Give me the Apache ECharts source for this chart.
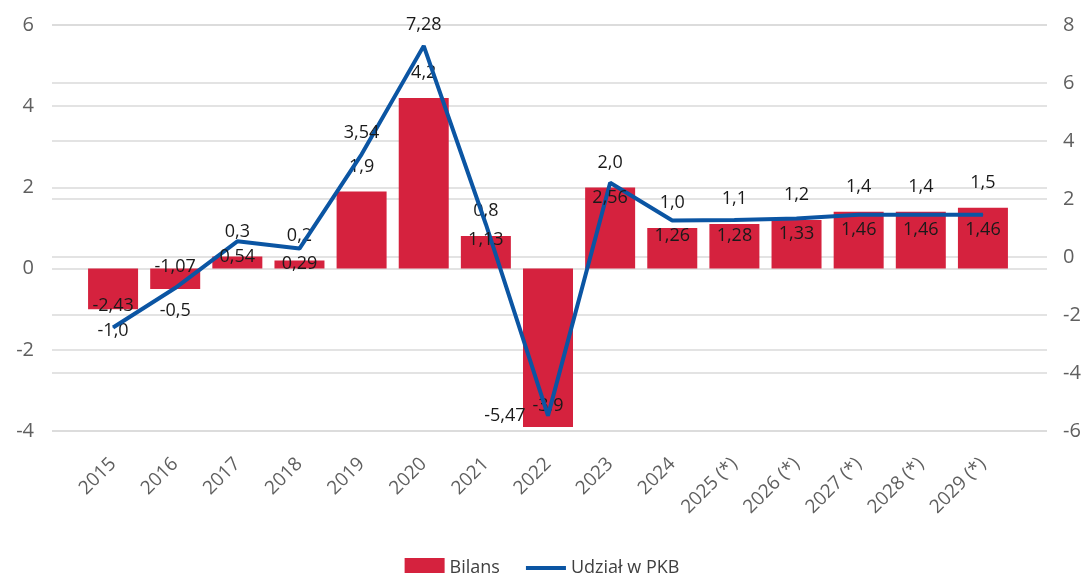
<!DOCTYPE html>
<html>
<head>
<meta charset="utf-8">
<script src="https://cdn.jsdelivr.net/npm/echarts@6/dist/echarts.min.js"></script>
<style>
  html, body { margin: 0; padding: 0; background: #fff; }
  #chart { width: 1084px; height: 573px; }
</style>
</head>
<body>
<div id="chart"></div>
<script>
// data
const years = ['2015', '2016', '2017', '2018', '2019', '2020', '2021', '2022', '2023', '2024',
  '2025 (*)', '2026 (*)', '2027 (*)', '2028 (*)', '2029 (*)'];
const bilans = [-1.0, -0.5, 0.3, 0.2, 1.9, 4.2, 0.8, -3.9, 2.0, 1.0, 1.1, 1.2, 1.4, 1.4, 1.5];
const udzialPkb = [-2.43, -1.07, 0.54, 0.29, 3.54, 7.28, 1.13, -5.47, 2.56, 1.26, 1.28, 1.33, 1.46, 1.46, 1.46];
const leftTicks = [-4, -2, 0, 2, 4, 6];
const rightTicks = [-6, -4, -2, 0, 2, 4, 6, 8];

const FONT = '"Open Sans", "Noto Sans", sans-serif';
const RED = '#d5223e';
const BLUE = '#0b55a3';
const GRID_LINE = '#dadada';
const TICK_COLOR = '#5f5f5f';
const LABEL_COLOR = '#1a1a1a';

const fmt = (v, d) => v.toFixed(d).replace('.', ',');

// where Excel happened to put the line labels
const linePos = ['top', 'top', 'bottom', 'bottom', 'top', 'top', 'bottom', 'left', 'bottom',
  'bottom', 'bottom', 'bottom', 'bottom', 'bottom', 'bottom'];

const leftMin = leftTicks[0], leftMax = leftTicks[leftTicks.length - 1];
const rightMin = rightTicks[0], rightMax = rightTicks[rightTicks.length - 1];

const barData = bilans.map((v) => {
  let pos = v >= 0 ? 'top' : 'bottom';
  let dist = v >= 0 ? 16 : 13;
  if (v < leftMin + 0.5) { pos = 'insideBottom'; dist = 12; }  // no room below
  return { value: v, label: { position: pos, distance: dist } };
});

const lineData = udzialPkb.map((v, i) => {
  const pos = linePos[i];
  const dist = pos === 'top' ? 12 : pos === 'left' ? 22 : 6;
  return { value: v, label: { position: pos, distance: dist } };
});

const chart = echarts.init(document.getElementById('chart'));
chart.setOption({
  animation: false,
  textStyle: { fontFamily: FONT },
  grid: [
    // gridlines / outer axes
    { left: 52, right: 37, top: 25, bottom: 142 },
    // bars and line
    { left: 82, right: 70, top: 25, bottom: 142 },
  ],
  legend: {
    top: 553,
    left: 'center',
    itemWidth: 40,
    itemHeight: 20,
    itemGap: 26,
    textStyle: { fontFamily: FONT, fontSize: 18, color: '#404040' },
    data: [
      { name: 'Bilans', icon: 'rect' },
      { name: 'Udział w PKB', icon: 'path://M0,0 H40 V4 H0 Z' },
    ],
  },
  xAxis: [
    { gridIndex: 0, type: 'category', data: years, show: false },
    {
      gridIndex: 1,
      type: 'category',
      data: years,
      axisLine: { show: false },
      axisTick: { show: false },
      axisLabel: {
        rotate: 45,
        margin: 30,
        interval: 0,
        color: TICK_COLOR,
        fontFamily: FONT,
        fontSize: 19,
      },
    },
  ],
  yAxis: [
    {
      gridIndex: 0,
      type: 'value',
      position: 'left',
      min: leftMin,
      max: leftMax,
      interval: 2,
      axisLine: { show: false },
      axisTick: { show: false },
      axisLabel: { margin: 18, color: TICK_COLOR, fontFamily: FONT, fontSize: 20 },
      splitLine: { lineStyle: { color: GRID_LINE, width: 1.5 } },
    },
    {
      gridIndex: 0,
      type: 'value',
      position: 'right',
      min: rightMin,
      max: rightMax,
      interval: 2,
      axisLine: { show: false },
      axisTick: { show: false },
      axisLabel: { margin: 16, color: TICK_COLOR, fontFamily: FONT, fontSize: 20 },
      splitLine: { lineStyle: { color: GRID_LINE, width: 1.5 } },
    },
    { gridIndex: 1, type: 'value', min: leftMin, max: leftMax, show: false, splitLine: { show: false } },
    { gridIndex: 1, type: 'value', min: rightMin, max: rightMax, show: false, splitLine: { show: false } },
  ],
  series: [
    {
      name: 'Bilans',
      type: 'bar',
      xAxisIndex: 1,
      yAxisIndex: 2,
      data: barData,
      barWidth: 50,
      itemStyle: { color: RED },
      label: {
        show: true,
        color: LABEL_COLOR,
        fontFamily: FONT,
        fontSize: 18,
        formatter: (p) => fmt(p.value, 1),
      },
      z: 2,
    },
    {
      name: 'Udział w PKB',
      type: 'line',
      xAxisIndex: 1,
      yAxisIndex: 3,
      data: lineData,
      symbol: 'circle',
      symbolSize: 1,
      showSymbol: true,
      lineStyle: { color: BLUE, width: 4 },
      itemStyle: { color: BLUE },
      label: {
        show: true,
        color: LABEL_COLOR,
        fontFamily: FONT,
        fontSize: 18,
        formatter: (p) => fmt(p.value, 2),
      },
      z: 3,
    },
  ],
});
</script>
</body>
</html>
